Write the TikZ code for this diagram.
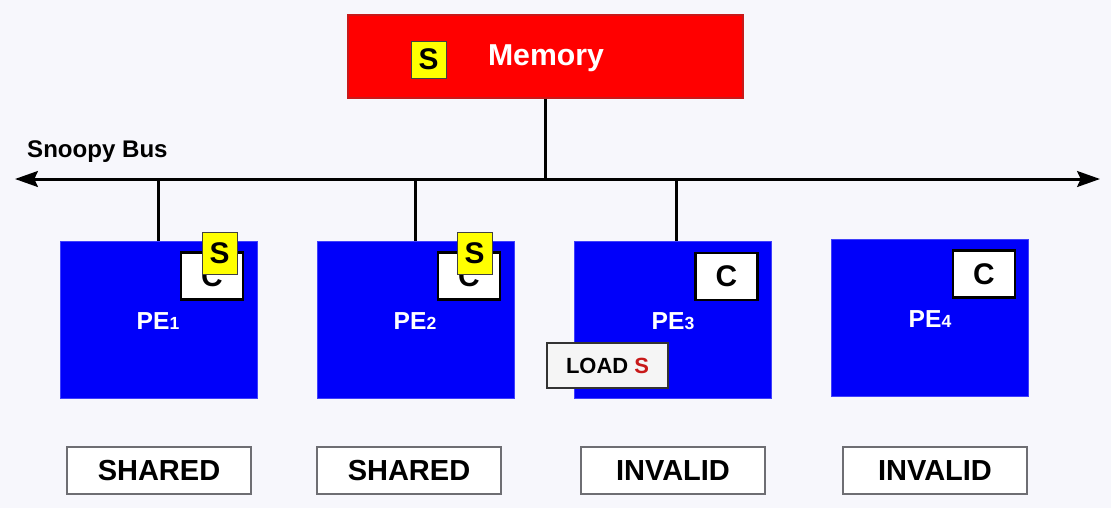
\documentclass[tikz,border=0pt]{standalone}
\usepackage{fontspec}
\setmainfont{Liberation Sans}
\usepackage{xcolor}
\definecolor{Col1}{RGB}{0,0,250}
\definecolor{Col2}{RGB}{255,0,0}
\definecolor{Col3}{RGB}{255,255,0}
\definecolor{Col4}{RGB}{110,110,115}
\definecolor{Col5}{RGB}{247,247,252}
\definecolor{Col6}{RGB}{200,25,25}
\usetikzlibrary{arrows.meta}
\tikzstyle{PEBox}=[rectangle,draw=Col1!75!white,fill=Col1,inner sep=0pt,
minimum width=3.94cm,minimum height=3.14cm]
\tikzstyle{PELabel}=[text=white,font=\fontsize{14}{14}\selectfont\bfseries]
\tikzstyle{CacheBox}=[rectangle,draw=black,line width=1.5pt,fill=white,
minimum width=1.24cm,minimum height=0.94cm,inner sep=0pt,
font=\fontsize{17}{17}\selectfont\bfseries]
\tikzstyle{TagBox}=[rectangle,draw=black!75,fill=Col3,inner sep=0pt,
minimum width=0.7cm,minimum height=0.84cm,font=\fontsize{17}{17}\selectfont\bfseries]
\tikzstyle{StateBox}=[rectangle,draw=Col4,line width=0.8pt,fill=white,
minimum width=3.68cm,minimum height=0.94cm,inner sep=0pt,
font=\fontsize{16.5}{16.5}\selectfont\bfseries]
\tikzstyle{Edge}=[draw=black,line width=1.7pt]
\newcommand{\Sub}[1]{{\fontsize{10}{10}\selectfont #1}}

\begin{document}
\begin{tikzpicture}[x=0.02cm,y=-0.02cm]
            \useasboundingbox[fill=Col5](0,0)rectangle(1111,508);
            % memory
            \node[rectangle,draw=Col6,line width=0.8pt,fill=Col2,
                minimum width=7.9cm,minimum height=1.66cm](mem)at(545.5,56.5){};
            \node[TagBox,minimum height=0.74cm](memS)at(428.5,59.5){S};
            \node[text=white,font=\fontsize{17.2}{17.2}\selectfont\bfseries]
                (memT)at(546,58){Memory};
            % bus
            \coordinate(busL)at(15,179);
            \coordinate(busR)at(1100,179);
            \draw[Edge,{Stealth[length=13pt,width=9pt,inset=2pt]}-%
                {Stealth[length=13pt,width=9pt,inset=2pt]}](busL)--(busR);
            \node[anchor=west,font=\fontsize{13.7}{13.7}\selectfont\bfseries]
                (busT)at(21,152){Snoopy Bus};
            \draw[Edge](mem.south)--(mem.south|-busL);
            % processors
            \node[PEBox](pe1)at(158.5,319.5){};
            \node[PEBox](pe2)at(415.5,319.5){};
            \node[PEBox](pe3)at(672.5,319.5){};
            \node[PEBox](pe4)at(930,318){};
            \node[PELabel](l1)at(158,321){PE\Sub{1}};
            \node[PELabel](l2)at(415,321){PE\Sub{2}};
            \node[PELabel](l3)at(673,321){PE\Sub{3}};
            \node[PELabel](l4)at(930,319){PE\Sub{4}};
            \coordinate(t1)at(158.5,179);
            \coordinate(t2)at(415.5,179);
            \coordinate(t3)at(676.5,179);
            \draw[Edge](t1)--(t1|-pe1.north);
            \draw[Edge](t2)--(t2|-pe2.north);
            \draw[Edge](t3)--(t3|-pe3.north);
            % caches
            \node[CacheBox](c1)at(212,276){C};
            \node[CacheBox](c2)at(469,276){C};
            \node[CacheBox](c3)at(726.5,276.5){C};
            \node[CacheBox](c4)at(984,274){C};
            \node[TagBox](s1)at(219.5,253){S};
            \node[TagBox](s2)at(474.5,253){S};
            \node[rectangle,draw=black!80,line width=1.2pt,fill=black!4,
                minimum width=2.42cm,minimum height=0.9cm,inner sep=0pt,
                font=\fontsize{12.5}{12.5}\selectfont\bfseries]
                (load)at(607.5,365.5){LOAD \textcolor{Col6}{S}};
            % states
            \node[StateBox](st1)at(159,470.5){SHARED};
            \node[StateBox](st2)at(409,470.5){SHARED};
            \node[StateBox](st3)at(673,470.5){INVALID};
            \node[StateBox](st4)at(935,470.5){INVALID};
        \end{tikzpicture}
\end{document}
